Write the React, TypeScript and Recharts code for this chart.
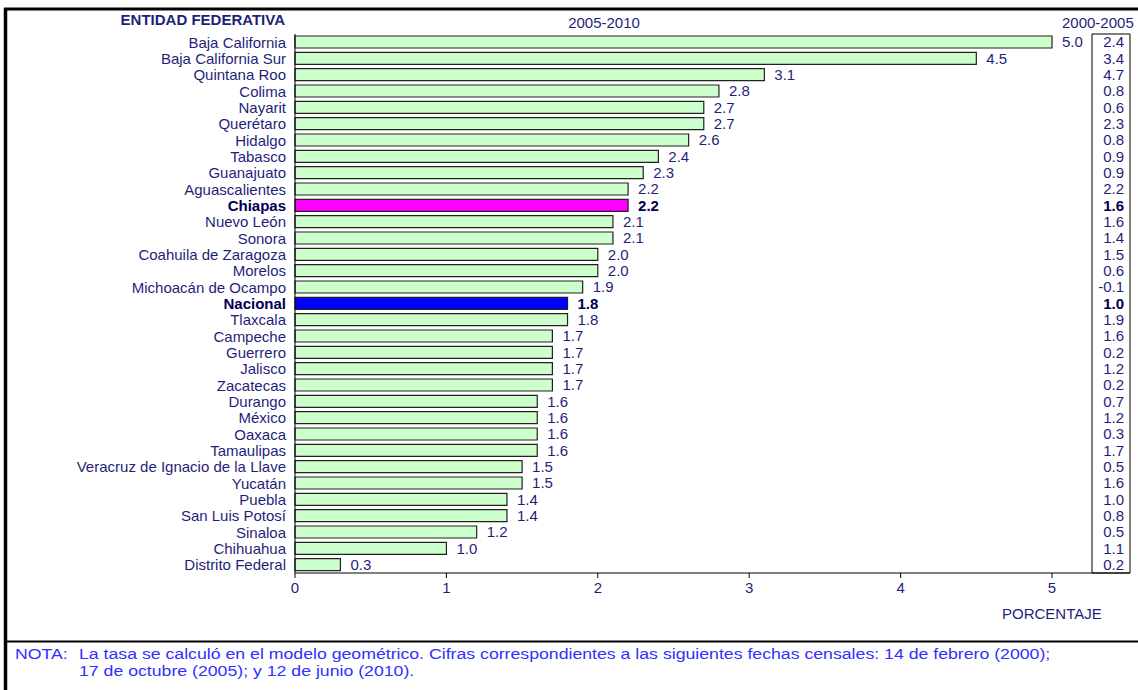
import { BarChart, Bar, XAxis, YAxis, Cell, LabelList, ReferenceArea } from 'recharts';

// Tasa de crecimiento media anual por entidad federativa
const entidades = [
  'Baja California', 'Baja California Sur', 'Quintana Roo', 'Colima', 'Nayarit',
  'Querétaro', 'Hidalgo', 'Tabasco', 'Guanajuato', 'Aguascalientes',
  'Chiapas', 'Nuevo León', 'Sonora', 'Coahuila de Zaragoza', 'Morelos',
  'Michoacán de Ocampo', 'Nacional', 'Tlaxcala', 'Campeche', 'Guerrero',
  'Jalisco', 'Zacatecas', 'Durango', 'México', 'Oaxaca',
  'Tamaulipas', 'Veracruz de Ignacio de la Llave', 'Yucatán', 'Puebla', 'San Luis Potosí',
  'Sinaloa', 'Chihuahua', 'Distrito Federal',
];

const tasa2005_2010 = [
  5.0, 4.5, 3.1, 2.8, 2.7,
  2.7, 2.6, 2.4, 2.3, 2.2,
  2.2, 2.1, 2.1, 2.0, 2.0,
  1.9, 1.8, 1.8, 1.7, 1.7,
  1.7, 1.7, 1.6, 1.6, 1.6,
  1.6, 1.5, 1.5, 1.4, 1.4,
  1.2, 1.0, 0.3,
];

const tasa2000_2005 = [
  2.4, 3.4, 4.7, 0.8, 0.6,
  2.3, 0.8, 0.9, 0.9, 2.2,
  1.6, 1.6, 1.4, 1.5, 0.6,
  -0.1, 1.0, 1.9, 1.6, 0.2,
  1.2, 0.2, 0.7, 1.2, 0.3,
  1.7, 0.5, 1.6, 1.0, 0.8,
  0.5, 1.1, 0.2,
];

const xTicks = [0, 1, 2, 3, 4, 5];

const data = entidades.map((name, i) => ({
  name,
  tasa: tasa2005_2010[i],
  previa: tasa2000_2005[i],
}));

const X_MAX = 5.515; // end of the axis, right edge of the 2000-2005 box
const BOX_START = 5.264;

const FONT = '"Liberation Sans", Arial, sans-serif';
const NAVY = '#1f1f7a';
const NOTE = '#3030ff';
const destacado = (name: string) => name === 'Chiapas' || name === 'Nacional';

function barColor(name: string) {
  if (name === 'Chiapas') return '#ff00ff';
  if (name === 'Nacional') return '#0000ff';
  return '#ccffcc';
}

const EntidadTick = (props: any) => {
  const { x, y, payload } = props;
  const bold = destacado(payload.value);
  return (
    <text x={x} y={y} dy="0.36em" textAnchor="end" fontSize={15} fontFamily={FONT}
      fill={bold ? '#000050' : NAVY} fontWeight={bold ? 'bold' : 'normal'}>
      {payload.value}
    </text>
  );
};

const ValorLabel = (props: any) => {
  const { x, y, width, height, value, index } = props;
  const bold = destacado(entidades[index]);
  return (
    <text x={x + width + 10} y={y + height / 2} dy="0.36em" textAnchor="start" fontSize={15}
      fontFamily={FONT} fill={bold ? '#000050' : NAVY} fontWeight={bold ? 'bold' : 'normal'}>
      {Number(value).toFixed(1)}
    </text>
  );
};

// 2000-2005 column: placed at the right edge of the axis, using the bar's own scale
const PreviaLabel = (props: any) => {
  const { x, y, width, height, index } = props;
  const row = data[index];
  if (!row) return null;
  const pxPerUnit = width / row.tasa;
  const right = x + pxPerUnit * X_MAX - 6;
  const bold = destacado(row.name);
  return (
    <text x={right} y={y + height / 2} dy="0.36em" textAnchor="end" fontSize={15}
      fontFamily={FONT} fill={bold ? '#000050' : NAVY} fontWeight={bold ? 'bold' : 'normal'}>
      {row.previa.toFixed(1)}
    </text>
  );
};

export default function App() {
  return (
    <div style={{ position: 'absolute', left: 0, top: 0, width: 1138, height: 690, overflow: 'hidden', background: '#fff' }}>
      <svg width={1138} height={690} style={{ position: 'absolute', left: 0, top: 0 }}>
        <line x1={4} y1={9} x2={1138} y2={9} stroke="#000" strokeWidth={3} />
        <line x1={5.5} y1={8} x2={5.5} y2={690} stroke="#000" strokeWidth={3.5} />
        <line x1={4} y1={641.5} x2={1138} y2={641.5} stroke="#000" strokeWidth={2} />
        <g fontFamily={FONT} fontSize={15}>
          <text x={285} y={25} textAnchor="end" fontWeight="bold" fill={NAVY}>ENTIDAD FEDERATIVA</text>
          <text x={604} y={28} textAnchor="middle" fill={NAVY}>2005-2010</text>
          <text x={1062} y={28} fill={NAVY}>2000-2005</text>
          <text x={1002} y={619} fill={NAVY}>PORCENTAJE</text>
          <text transform="translate(15,659) scale(1.18,1)" fill={NOTE}>NOTA:</text>
          <text transform="translate(79,659) scale(1.18,1)" fill={NOTE}>
            La tasa se calculó en el modelo geométrico. Cifras correspondientes a las siguientes fechas censales: 14 de febrero (2000);
          </text>
          <text transform="translate(79,676) scale(1.18,1)" fill={NOTE}>17 de octubre (2005); y 12 de junio (2010).</text>
        </g>
      </svg>
      <div style={{ position: 'absolute', left: 0, top: 0 }}>
        <BarChart
          width={1138}
          height={640}
          data={data}
          layout="vertical"
          margin={{ top: 34, right: 8, left: 0, bottom: 27 }}
        >
          <XAxis
            type="number"
            domain={[0, X_MAX]}
            ticks={xTicks}
            height={40}
            axisLine={{ stroke: '#000' }}
            tickLine={{ stroke: '#000' }}
            tickSize={5}
            tickMargin={4}
            tick={{ fontSize: 15, fontFamily: FONT, fill: NAVY }}
          />
          <YAxis
            type="category"
            dataKey="name"
            width={295}
            axisLine={{ stroke: '#000' }}
            tickLine={false}
            tickSize={0}
            tickMargin={9}
            interval={0}
            tick={<EntidadTick />}
          />
          <ReferenceArea x1={BOX_START} x2={X_MAX} fill="none" stroke="#000" strokeWidth={1} ifOverflow="visible" />
          <Bar dataKey="tasa" barSize={12} stroke="#222" strokeWidth={1.2} isAnimationActive={false}>
            {data.map((d) => (
              <Cell key={d.name} fill={barColor(d.name)} />
            ))}
            <LabelList dataKey="tasa" content={<ValorLabel />} />
            <LabelList dataKey="previa" content={<PreviaLabel />} />
          </Bar>
        </BarChart>
      </div>
    </div>
  );
}
